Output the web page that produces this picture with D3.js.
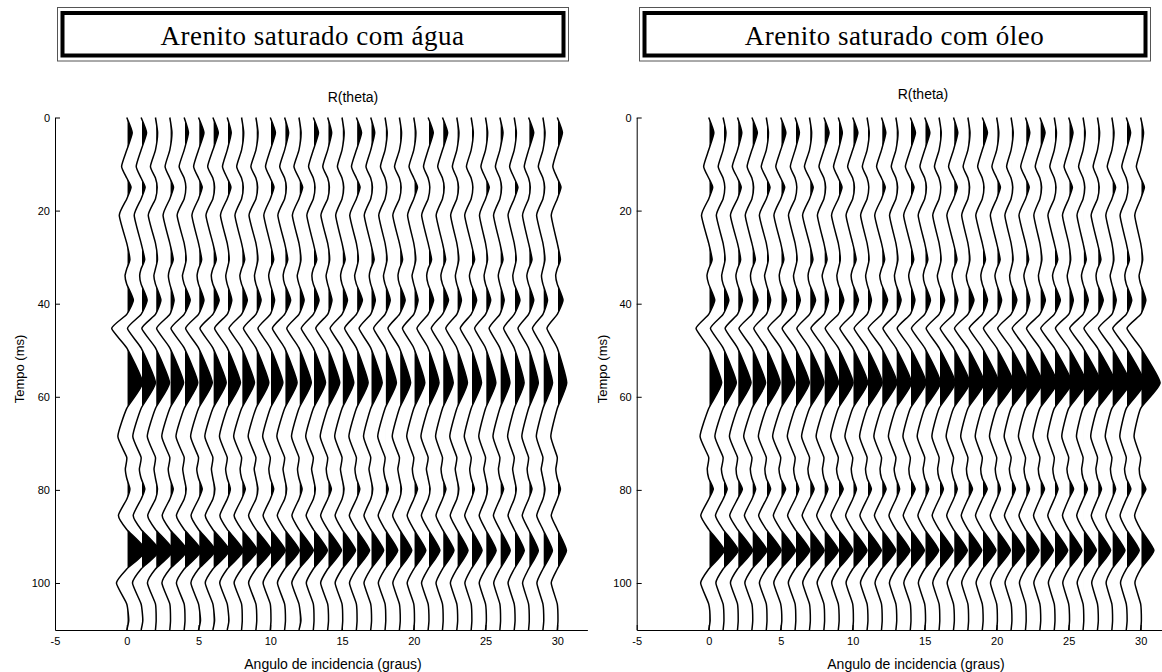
<!DOCTYPE html>
<html>
<head>
<meta charset="utf-8">
<script src="https://cdn.jsdelivr.net/npm/d3@7"></script>
<style>
  body { margin: 0; background: #fff; }
  svg { display: block; }
</style>
</head>
<body>
<svg id="chart" width="1162" height="672"></svg>
<script>
var titulos = ["Arenito saturado com água", "Arenito saturado com óleo"];
var angulos = [0,1,2,3,4,5,6,7,8,9,10,11,12,13,14,15,16,17,18,19,20,21,22,23,24,25,26,27,28,29,30];
var ticksTempo = [0, 20, 40, 60, 80, 100];
var ticksAngulo = [-5, 0, 5, 10, 15, 20, 25, 30];

// tempos (ms) onde o traco cruza a linha de base
var temposZero = [0, 7, 13, 17.5, 27, 32.5, 35.8, 42.3, 49.5, 62.5, 73, 77.5, 82, 88.5, 97, 104.5, 110.1];
// tempos (ms) dos picos / vales
var temposPico = [3.3, 10.5, 15, 21, 30.5, 34, 39.2, 45.3, 57, 68.5, 75.5, 79.8, 85.5, 93, 100, 108];

// amplitude de cada pico (em graus de deslocamento), uma linha por tempo, uma coluna por angulo
var amplitudeAgua = [
  [0.38,0.38,0.15,0.15,0.3,0.38,0.38,0.28,0.15,0.15, 0.36,0.28,0.15,0.36,0.28,0.15,0.36,0.28,0.15,0.15, 0.15,0.36,0.36,0.15,0.15,0.15,0.22,0.15,0.36,0.15, 0.36],
  [-0.36,-0.34,-0.35,-0.33,-0.35,-0.34,-0.36,-0.33,-0.34,-0.35, -0.33,-0.34,-0.35,-0.33,-0.34,-0.32,-0.34,-0.33,-0.32,-0.34, -0.33,-0.32,-0.33,-0.31,-0.33,-0.32,-0.31,-0.32,-0.3,-0.32, -0.31],
  [0.3,0.28,0.12,0.26,0.12,0.26,0.12,0.26,0.12,0.12, 0.26,0.12,0.26,0.12,0.12,0.12,0.26,0.12,0.12,0.12, 0.26,0.12,0.12,0.12,0.12,0.26,0.12,0.26,0.12,0.12, 0.26],
  [-0.52,-0.48,-0.5,-0.47,-0.49,-0.46,-0.48,-0.47,-0.46,-0.48, -0.45,-0.47,-0.46,-0.45,-0.47,-0.44,-0.46,-0.45,-0.44,-0.46, -0.43,-0.45,-0.44,-0.43,-0.45,-0.42,-0.44,-0.43,-0.42,-0.44, -0.42],
  [0.22,0.25,0.14,0.24,0.14,0.22,0.24,0.14,0.22,0.14, 0.24,0.22,0.14,0.24,0.14,0.22,0.14,0.24,0.14,0.22, 0.14,0.24,0.22,0.14,0.24,0.14,0.22,0.14,0.24,0.14, 0.22],
  [-0.12,-0.1,-0.11,-0.1,-0.12,-0.1,-0.11,-0.1,-0.12,-0.1, -0.11,-0.1,-0.12,-0.1,-0.11,-0.1,-0.12,-0.1,-0.11,-0.1, -0.12,-0.1,-0.11,-0.1,-0.12,-0.1,-0.11,-0.1,-0.12,-0.1, -0.11],
  [0.46,0.42,0.38,0.3,0.42,0.38,0.44,0.32,0.4,0.36, 0.3,0.42,0.36,0.4,0.3,0.38,0.42,0.32,0.36,0.4, 0.3,0.38,0.42,0.32,0.38,0.36,0.3,0.4,0.36,0.32, 0.4],
  [-1.05,-0.95,-0.95,-0.92,-0.92,-0.9,-0.9,-0.88,-0.88,-0.87, -0.86,-0.85,-0.85,-0.84,-0.83,-0.83,-0.82,-0.81,-0.8,-0.8, -0.79,-0.78,-0.78,-0.77,-0.76,-0.76,-0.75,-0.74,-0.74,-0.73, -0.72],
  [1.1,1.0,0.98,0.96,0.95,0.96,0.93,0.92,0.9,0.9, 0.88,0.87,0.86,0.85,0.84,0.82,0.82,0.8,0.79,0.78, 0.77,0.76,0.75,0.74,0.72,0.72,0.7,0.69,0.68,0.67, 0.66],
  [-0.62,-0.58,-0.57,-0.56,-0.57,-0.55,-0.56,-0.54,-0.55,-0.54, -0.53,-0.54,-0.52,-0.53,-0.52,-0.51,-0.52,-0.5,-0.51,-0.5, -0.49,-0.5,-0.48,-0.49,-0.48,-0.47,-0.48,-0.46,-0.47,-0.46, -0.45],
  [-0.1,-0.12,-0.1,-0.11,-0.1,-0.12,-0.1,-0.11,-0.1,-0.12, -0.1,-0.11,-0.1,-0.12,-0.1,-0.11,-0.1,-0.12,-0.1,-0.11, -0.1,-0.12,-0.1,-0.11,-0.1,-0.12,-0.1,-0.11,-0.1,-0.12, -0.1],
  [0.22,0.26,0.14,0.24,0.14,0.26,0.14,0.22,0.26,0.14, 0.24,0.14,0.22,0.14,0.26,0.14,0.24,0.14,0.22,0.14, 0.26,0.14,0.24,0.14,0.22,0.14,0.26,0.14,0.24,0.14, 0.22],
  [-0.58,-0.55,-0.54,-0.53,-0.54,-0.52,-0.53,-0.51,-0.52,-0.51, -0.5,-0.51,-0.49,-0.5,-0.49,-0.48,-0.49,-0.47,-0.48,-0.47, -0.46,-0.47,-0.45,-0.46,-0.45,-0.44,-0.45,-0.43,-0.44,-0.43, -0.42],
  [1.35,1.28,1.25,1.22,1.2,1.18,1.15,1.12,1.1,1.08, 1.05,1.03,1.0,0.98,0.96,0.94,0.92,0.9,0.88,0.86, 0.84,0.82,0.8,0.78,0.76,0.74,0.72,0.7,0.68,0.66, 0.64],
  [-0.72,-0.6,-0.56,-0.55,-0.54,-0.53,-0.53,-0.52,-0.52,-0.51, -0.5,-0.5,-0.5,-0.49,-0.49,-0.48,-0.48,-0.47,-0.47,-0.46, -0.46,-0.46,-0.45,-0.45,-0.44,-0.44,-0.43,-0.43,-0.42,-0.42, -0.42],
  [0.14,0.12,0.05,0.05,0.06,0.14,0.12,0.12,0.05,0.06, 0.05,0.06,0.14,0.05,0.06,0.05,0.05,0.06,0.05,0.06, 0.05,0.06,0.05,0.06,0.05,0.06,0.05,0.06,0.05,0.06, 0.05]
];

var amplitudeOleo = [
  [0.36,0.2,0.3,0.38,0.15,0.36,0.3,0.15,0.36,0.28, 0.36,0.15,0.3,0.15,0.36,0.36,0.15,0.3,0.15,0.36, 0.15,0.15,0.3,0.36,0.15,0.3,0.15,0.15,0.15,0.3, 0.2],
  [-0.35,-0.34,-0.36,-0.33,-0.35,-0.34,-0.33,-0.35,-0.34,-0.33, -0.35,-0.33,-0.34,-0.32,-0.34,-0.33,-0.32,-0.34,-0.33,-0.32, -0.33,-0.31,-0.33,-0.32,-0.31,-0.32,-0.31,-0.3,-0.32,-0.31, -0.3],
  [0.28,0.12,0.26,0.12,0.26,0.28,0.12,0.26,0.12,0.26, 0.12,0.12,0.26,0.12,0.26,0.12,0.12,0.26,0.12,0.12, 0.26,0.12,0.26,0.12,0.12,0.26,0.12,0.12,0.26,0.12, 0.26],
  [-0.5,-0.47,-0.49,-0.46,-0.48,-0.47,-0.46,-0.48,-0.45,-0.47, -0.46,-0.45,-0.47,-0.44,-0.46,-0.45,-0.44,-0.46,-0.43,-0.45, -0.44,-0.43,-0.45,-0.42,-0.44,-0.43,-0.42,-0.44,-0.42,-0.43, -0.41],
  [0.24,0.14,0.22,0.24,0.14,0.22,0.14,0.24,0.22,0.14, 0.24,0.14,0.22,0.14,0.24,0.22,0.14,0.24,0.14,0.22, 0.24,0.14,0.22,0.14,0.24,0.14,0.22,0.24,0.14,0.22, 0.14],
  [-0.12,-0.1,-0.11,-0.1,-0.12,-0.1,-0.11,-0.1,-0.12,-0.1, -0.11,-0.1,-0.12,-0.1,-0.11,-0.1,-0.12,-0.1,-0.11,-0.1, -0.12,-0.1,-0.11,-0.1,-0.12,-0.1,-0.11,-0.1,-0.12,-0.1, -0.11],
  [0.42,0.4,0.34,0.42,0.3,0.4,0.36,0.42,0.32,0.38, 0.4,0.3,0.42,0.36,0.32,0.4,0.38,0.3,0.42,0.36, 0.34,0.4,0.3,0.38,0.42,0.32,0.36,0.4,0.3,0.38, 0.36],
  [-0.88,-0.88,-0.86,-0.9,-0.87,-0.89,-0.9,-0.88,-0.9,-0.91, -0.89,-0.9,-0.92,-0.9,-0.91,-0.92,-0.9,-0.92,-0.93,-0.91, -0.92,-0.93,-0.92,-0.93,-0.94,-0.92,-0.93,-0.94,-0.93,-0.94, -0.95],
  [0.9,0.92,0.94,0.95,0.96,0.98,0.99,1.0,1.02,1.03, 1.04,1.05,1.07,1.08,1.09,1.1,1.12,1.13,1.14,1.15, 1.17,1.18,1.19,1.2,1.22,1.23,1.24,1.25,1.27,1.28, 1.35],
  [-0.6,-0.57,-0.56,-0.57,-0.55,-0.56,-0.54,-0.55,-0.54,-0.53, -0.54,-0.52,-0.53,-0.52,-0.51,-0.52,-0.5,-0.51,-0.5,-0.49, -0.5,-0.48,-0.49,-0.48,-0.47,-0.48,-0.46,-0.47,-0.46,-0.45, -0.46],
  [-0.1,-0.12,-0.1,-0.11,-0.1,-0.12,-0.1,-0.11,-0.1,-0.12, -0.1,-0.11,-0.1,-0.12,-0.1,-0.11,-0.1,-0.12,-0.1,-0.11, -0.1,-0.12,-0.1,-0.11,-0.1,-0.12,-0.1,-0.11,-0.1,-0.12, -0.1],
  [0.32,0.28,0.34,0.26,0.3,0.34,0.26,0.32,0.28,0.34, 0.26,0.3,0.32,0.26,0.34,0.28,0.3,0.26,0.32,0.34, 0.26,0.3,0.28,0.32,0.26,0.34,0.3,0.28,0.26,0.32, 0.36],
  [-0.55,-0.53,-0.54,-0.52,-0.53,-0.51,-0.52,-0.51,-0.5,-0.51, -0.49,-0.5,-0.49,-0.48,-0.49,-0.47,-0.48,-0.47,-0.46,-0.47, -0.45,-0.46,-0.45,-0.44,-0.45,-0.43,-0.44,-0.43,-0.42,-0.43, -0.42],
  [1.08,1.05,1.05,1.04,1.03,1.03,1.02,1.02,1.01,1.0, 1.0,0.99,0.99,0.98,0.98,0.97,0.97,0.96,0.96,0.95, 0.95,0.94,0.94,0.93,0.93,0.92,0.92,0.91,0.91,0.9, 0.92],
  [-0.56,-0.5,-0.49,-0.49,-0.48,-0.48,-0.47,-0.47,-0.47,-0.46, -0.46,-0.46,-0.45,-0.45,-0.45,-0.44,-0.44,-0.44,-0.43,-0.43, -0.43,-0.42,-0.42,-0.42,-0.41,-0.41,-0.41,-0.4,-0.4,-0.4, -0.4],
  [0.1,0.06,0.05,0.06,0.05,0.08,0.05,0.06,0.05,0.06, 0.05,0.06,0.05,0.06,0.05,0.06,0.05,0.06,0.05,0.06, 0.05,0.06,0.05,0.06,0.05,0.06,0.05,0.06,0.05,0.06, 0.05]
];

var sans = "'Liberation Sans', Arial, sans-serif";
var serif = "'Liberation Serif', 'Times New Roman', serif";

var svg = d3.select("#chart");
svg.append("rect").attr("width", 1162).attr("height", 672).attr("fill", "#fff");
var defs = svg.append("defs");

// vertices do traco k: cruzamentos com zero + picos, em ordem de tempo
function traco(amps, k) {
  var pts = temposZero.map(t => ({t: t, a: 0}))
    .concat(temposPico.map((t, i) => ({t: t, a: amps[i][k]})));
  pts.sort((p, q) => p.t - q.t);
  return pts;
}

var curva = d3.curveCardinal.tension(0.5);

function painel(cfg, id) {
  var x = d3.scaleLinear().domain([-5, 32.1]).range(cfg.xRange);
  var y = d3.scaleLinear().domain([0, 110.1]).range([117.5, 630]);
  var g = svg.append("g");

  // caixa do titulo (borda dupla)
  g.append("rect")
    .attr("x", cfg.caixa[0] + 0.5).attr("y", 7.5)
    .attr("width", cfg.caixa[1] - cfg.caixa[0]).attr("height", 53.5)
    .attr("fill", "none").attr("stroke", "#555").attr("stroke-width", 1);
  g.append("rect")
    .attr("x", cfg.caixa[0] + 5.5).attr("y", 13)
    .attr("width", cfg.caixa[1] - cfg.caixa[0] - 10).attr("height", 42.5)
    .attr("fill", "#fff").attr("stroke", "#000").attr("stroke-width", 4);
  g.append("text")
    .attr("x", (cfg.caixa[0] + cfg.caixa[1]) / 2).attr("y", 45)
    .attr("text-anchor", "middle")
    .attr("font-family", serif).attr("font-size", 27)
    .attr("letter-spacing", 0.5)
    .text(cfg.titulo);

  g.append("text")
    .attr("x", cfg.rx).attr("y", cfg.ry)
    .attr("text-anchor", "middle")
    .attr("font-family", sans).attr("font-size", 14)
    .text("R(theta)");

  // tracos sismicos: parte positiva preenchida de preto
  var tr = g.append("g");
  angulos.forEach(function(ang, k) {
    var pts = traco(cfg.amps, k);
    var cid = "clip-" + id + "-" + k;
    defs.append("clipPath").attr("id", cid)
      .append("rect")
      .attr("x", x(ang) + 0.8).attr("y", 0)
      .attr("width", 60).attr("height", 672);
    var area = d3.area()
      .curve(curva)
      .y(p => y(p.t))
      .x0(x(ang))
      .x1(p => x(ang + p.a));
    var linha = d3.line()
      .curve(curva)
      .y(p => y(p.t))
      .x(p => x(ang + p.a));
    tr.append("path").attr("d", area(pts)).attr("fill", "#000")
      .attr("clip-path", "url(#" + cid + ")");
    tr.append("path").attr("d", linha(pts))
      .attr("fill", "none").attr("stroke", "#000").attr("stroke-width", 1.5);
  });

  // eixos
  var ay = d3.axisLeft(y).tickValues(ticksTempo)
    .tickSizeInner(-5).tickSizeOuter(0).tickPadding(5);
  g.append("g")
    .attr("transform", "translate(" + cfg.xRange[0] + ",0)")
    .call(ay)
    .attr("font-family", sans).attr("font-size", 11);

  var ax = d3.axisBottom(x).tickValues(ticksAngulo)
    .tickSizeInner(-5).tickSizeOuter(0).tickPadding(7)
    .tickFormat(d => String(d));
  g.append("g")
    .attr("transform", "translate(0," + y(110.1) + ")")
    .call(ax)
    .attr("font-family", sans).attr("font-size", 11);

  g.append("text")
    .attr("x", cfg.lx).attr("y", 669)
    .attr("text-anchor", "middle")
    .attr("font-family", sans).attr("font-size", 14)
    .text("Angulo de incidencia (graus)");

  g.append("text")
    .attr("transform", "translate(" + cfg.tx + ",369) rotate(-90)")
    .attr("text-anchor", "middle")
    .attr("dy", "0.35em")
    .attr("font-family", sans).attr("font-size", 13)
    .text("Tempo (ms)");
}

painel({titulo: titulos[0], amps: amplitudeAgua, xRange: [55, 587.4], caixa: [57, 568],
        rx: 353, ry: 102, lx: 333, tx: 19}, "agua");
painel({titulo: titulos[1], amps: amplitudeOleo, xRange: [636.7, 1170.9], caixa: [639, 1150],
        rx: 923, ry: 99, lx: 916, tx: 602}, "oleo");
</script>
</body>
</html>
